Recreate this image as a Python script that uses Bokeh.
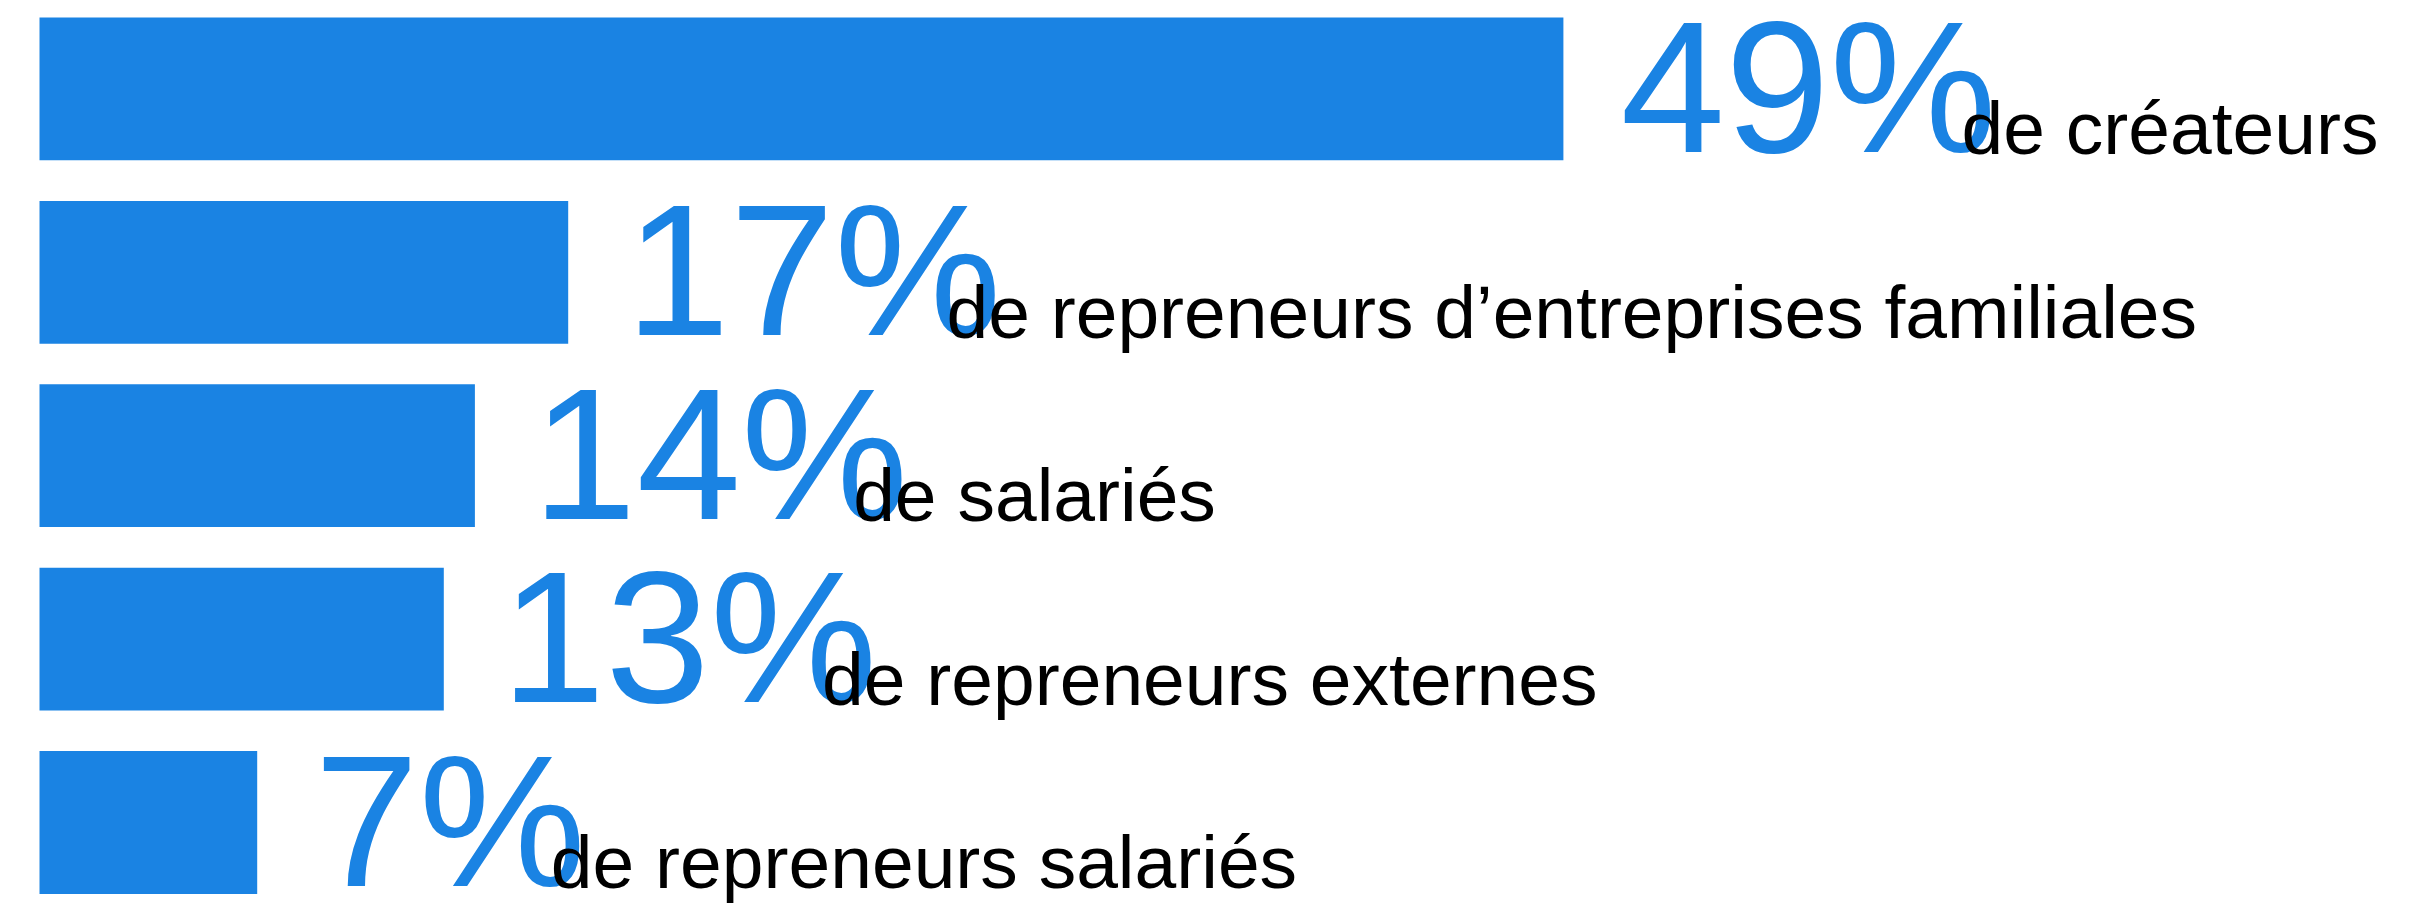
from bokeh.plotting import figure
from bokeh.models import Range1d, ColumnDataSource
from bokeh.core.properties import value
from bokeh.embed import file_html
from bokeh.resources import INLINE

# ---- data ----
categories = [
    "de créateurs",
    "de repreneurs d’entreprises familiales",
    "de salariés",
    "de repreneurs externes",
    "de repreneurs salariés",
]
shares = [49, 17, 14, 13, 7]
pct_labels = [f"{v}%" for v in shares]

# ---- styling ----
BLUE = "#1a83e3"
BIG_SIZE = 188
SMALL_SIZE = 75
FONT = "Liberation Sans"

W, H = 2428, 903
px_per_unit = 31.1
left_px = 39
band_px = 183.4
first_center_px = 88.4

# baseline sits ~67px below the bar centre; renderer shifts alphabetic text by ~0.367em
def text_y(y, size):
    return y + (67 - 0.367 * size) / band_px

ypos = list(range(len(categories)))
y_big = [text_y(y, BIG_SIZE) for y in ypos]
y_small = [text_y(y, SMALL_SIZE) for y in ypos]

# approximate visual widths (em) of the big glyphs, to chain the two labels
char_w = {"%": 0.889, "1": 0.45}
def text_width(s, size):
    return sum(char_w.get(c, 0.556) for c in s) * size

big_gap = 57
overlap = 35
small_offsets = [big_gap + text_width(s, BIG_SIZE) - overlap for s in pct_labels]

src = ColumnDataSource(dict(
    y=ypos, yb=y_big, ys=y_small, v=shares, pct=pct_labels, cat=categories,
    soff=small_offsets,
))

p = figure(
    width=W, height=H,
    x_range=Range1d(-left_px / px_per_unit, (W - left_px) / px_per_unit),
    y_range=Range1d((H - first_center_px) / band_px, -first_center_px / band_px),
    output_backend="svg", toolbar_location=None,
    min_border=0, min_border_left=0, min_border_right=0, min_border_top=0, min_border_bottom=0,
)
p.axis.visible = False
p.grid.visible = False
p.outline_line_color = None
p.background_fill_color = "white"
p.border_fill_color = "white"

p.hbar(y="y", right="v", left=0, height=0.7786, source=src,
       fill_color=BLUE, line_color=None)

p.text(x="v", y="yb", text="pct", source=src, x_offset=big_gap,
       text_font=value(FONT), text_font_size=f"{BIG_SIZE}px",
       text_color=BLUE, text_baseline="alphabetic", text_align="left")

p.text(x="v", y="ys", text="cat", source=src, x_offset="soff",
       text_font=value(FONT), text_font_size=f"{SMALL_SIZE}px",
       text_color="black", text_baseline="alphabetic", text_align="left")

open("out.html", "w").write(file_html(p, INLINE))
